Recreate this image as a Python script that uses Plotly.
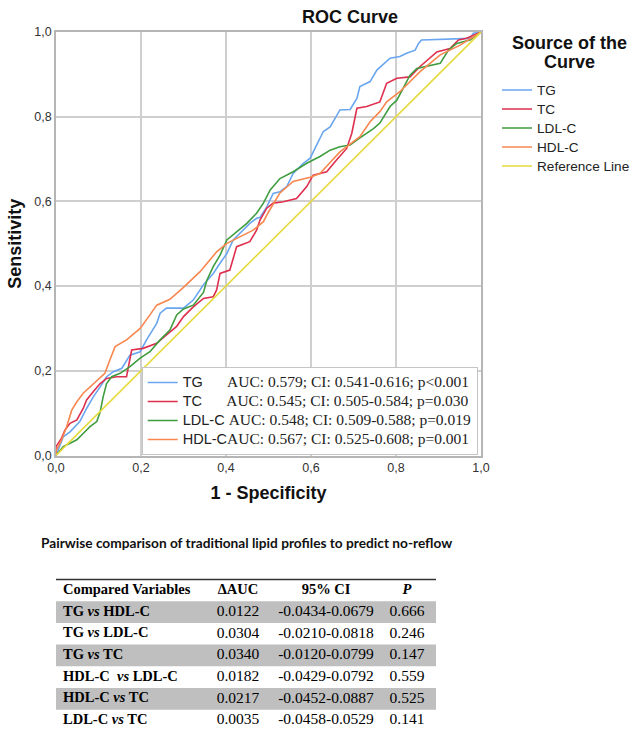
import plotly.graph_objects as go

W, H = 633, 732

# ---------------- ROC data ----------------
tg_fpr = [0, 0.017, 0.033, 0.056, 0.072, 0.088, 0.104, 0.119, 0.135, 0.155,
          0.174, 0.198, 0.213, 0.237, 0.245, 0.26, 0.30, 0.315, 0.323, 0.347,
          0.37, 0.386, 0.402, 0.417, 0.441, 0.456, 0.472, 0.48, 0.496, 0.511,
          0.527, 0.543, 0.558, 0.582, 0.598, 0.613, 0.629, 0.645, 0.668, 0.692,
          0.708, 0.715, 0.739, 0.755, 0.786, 0.809, 0.825, 0.845, 0.853, 0.86,
          0.939, 0.974, 0.982, 1]
tg_tpr = [0, 0.044, 0.056, 0.08, 0.111, 0.139, 0.162, 0.186, 0.198, 0.206,
          0.237, 0.245, 0.273, 0.312, 0.336, 0.348, 0.348, 0.359, 0.367, 0.403,
          0.43, 0.454, 0.477, 0.509, 0.532, 0.548, 0.56, 0.562, 0.587, 0.619,
          0.623, 0.635, 0.666, 0.69, 0.702, 0.733, 0.765, 0.776, 0.816, 0.817,
          0.843, 0.871, 0.883, 0.91, 0.938, 0.942, 0.95, 0.957, 0.973, 0.981,
          0.983, 0.985, 0.997, 1]

tc_fpr = [0, 0.0, 0.013, 0.021, 0.033, 0.049, 0.064, 0.072, 0.088, 0.104,
          0.119, 0.143, 0.166, 0.174, 0.178, 0.205, 0.237, 0.26, 0.284, 0.30,
          0.323, 0.347, 0.37, 0.378, 0.386, 0.409, 0.417, 0.425, 0.456, 0.472,
          0.48, 0.496, 0.511, 0.535, 0.566, 0.59, 0.605, 0.621, 0.637, 0.66,
          0.684, 0.696, 0.708, 0.731, 0.762, 0.778, 0.802, 0.833, 0.856, 0.896,
          0.927, 0.947, 0.966, 1]
tc_tpr = [0, 0.021, 0.041, 0.06, 0.076, 0.084, 0.111, 0.131, 0.151, 0.17,
          0.182, 0.186, 0.186, 0.226, 0.249, 0.253, 0.265, 0.285, 0.305, 0.328,
          0.351, 0.371, 0.375, 0.391, 0.43, 0.438, 0.469, 0.493, 0.505, 0.532,
          0.556, 0.584, 0.596, 0.599, 0.607, 0.635, 0.662, 0.666, 0.67, 0.698,
          0.725, 0.761, 0.82, 0.824, 0.835, 0.879, 0.891, 0.894, 0.918, 0.953,
          0.961, 0.981, 0.985, 1]

ldl_fpr = [0, 0.017, 0.033, 0.049, 0.064, 0.08, 0.096, 0.104, 0.111, 0.119,
           0.131, 0.151, 0.174, 0.198, 0.221, 0.245, 0.268, 0.284, 0.30, 0.323,
           0.347, 0.355, 0.37, 0.386, 0.402, 0.425, 0.449, 0.472, 0.488, 0.504,
           0.527, 0.558, 0.59, 0.621, 0.645, 0.668, 0.692, 0.715, 0.747, 0.762,
           0.786, 0.802, 0.821, 0.833, 0.849, 0.904, 0.923, 0.943, 0.974, 1]
ldl_tpr = [0, 0.021, 0.029, 0.037, 0.052, 0.068, 0.08, 0.103, 0.139, 0.17,
           0.186, 0.194, 0.21, 0.23, 0.245, 0.273, 0.296, 0.332, 0.346, 0.355,
           0.385, 0.414, 0.446, 0.473, 0.509, 0.528, 0.548, 0.572, 0.596, 0.627,
           0.654, 0.67, 0.69, 0.706, 0.721, 0.729, 0.733, 0.75, 0.772, 0.785,
           0.824, 0.839, 0.875, 0.898, 0.914, 0.926, 0.957, 0.973, 0.981, 1]

hdl_fpr = [0, 0, 0.013, 0.025, 0.037, 0.049, 0.064, 0.08, 0.096, 0.115, 0.127,
           0.139, 0.166, 0.198, 0.221, 0.237, 0.268, 0.30, 0.339, 0.362, 0.378,
           0.402, 0.433, 0.464, 0.488, 0.50, 0.527, 0.558, 0.598, 0.621, 0.645,
           0.668, 0.692, 0.715, 0.739, 0.762, 0.778, 0.809, 0.856, 0.904, 0.951,
           1]
hdl_tpr = [0, 0.01, 0.037, 0.068, 0.107, 0.127, 0.147, 0.162, 0.178, 0.194, 0.226,
           0.257, 0.273, 0.30, 0.332, 0.355, 0.369, 0.397, 0.434, 0.462, 0.481,
           0.501, 0.517, 0.532, 0.552, 0.575, 0.62, 0.647, 0.657, 0.666, 0.692,
           0.717, 0.735, 0.753, 0.788, 0.812, 0.835, 0.859, 0.906, 0.946, 0.969,
           1]

ref_x = [0, 1]
ref_y = [0, 1]

curve_names = ["TG", "TC", "LDL-C", "HDL-C"]
curve_fpr = [tg_fpr, tc_fpr, ldl_fpr, hdl_fpr]
curve_tpr = [tg_tpr, tc_tpr, ldl_tpr, hdl_tpr]
curve_colors = ["#6AA6F0", "#DE2F4E", "#3F9C3F", "#F7874F"]
ref_name = "Reference Line"
ref_color = "#E6DA3E"

auc_text = ["AUC: 0.579; CI: 0.541-0.616; p<0.001",
            "AUC: 0.545; CI: 0.505-0.584; p=0.030",
            "AUC: 0.548; CI: 0.509-0.588; p=0.019",
            "AUC: 0.567; CI: 0.525-0.608; p=0.001"]
label_pad = [6, 6, 1, 0]

tick_vals = [0, 0.2, 0.4, 0.6, 0.8, 1.0]
tick_text = ["0,0", "0,2", "0,4", "0,6", "0,8", "1,0"]
legend_title_lines = ["Source of the", "Curve"]

# ---------------- table data ----------------
tbl_title = "Pairwise comparison of traditional lipid profiles to predict no-reflow"
tbl_header = ["Compared Variables", "\u0394AUC", "95% CI", "<i>P</i>"]
cmp_a = ["TG", "TG", "TG", "HDL-C\u00a0", "HDL-C", "LDL-C"]
cmp_b = ["HDL-C", "LDL-C", "TC", "LDL-C", "TC", "TC"]
d_auc = ["0.0122", "0.0304", "0.0340", "0.0182", "0.0217", "0.0035"]
ci95 = ["-0.0434-0.0679", "-0.0210-0.0818", "-0.0120-0.0799",
        "-0.0429-0.0792", "-0.0452-0.0887", "-0.0458-0.0529"]
p_val = ["0.666", "0.246", "0.147", "0.559", "0.525", "0.141"]

SANS = "Liberation Sans, Arial, sans-serif"
SERIF = "Liberation Serif, Times New Roman, serif"

fig = go.Figure()

for name, fx, ty, col in zip(curve_names, curve_fpr, curve_tpr, curve_colors):
    fig.add_trace(go.Scatter(
        x=fx, y=ty, mode="lines", name=f'<span style="font-size:13.6px">{name}</span>',
        line=dict(color=col, width=1.6), legend="legend", hoverinfo="skip"))
fig.add_trace(go.Scatter(
    x=ref_x, y=ref_y, mode="lines", name=f'<span style="font-size:13.6px">{ref_name}</span>',
    line=dict(color=ref_color, width=1.6), legend="legend", hoverinfo="skip"))

# inner AUC legend
for name, col, auc, pad in zip(curve_names, curve_colors, auc_text, label_pad):
    label = (f'<span style="font-size:14.5px">{name}{chr(160) * pad}</span>'
             f'<span style="font-family:Liberation Serif;font-size:15.5px">{auc}</span>')
    fig.add_trace(go.Scatter(
        x=[None], y=[None], mode="lines", name=label,
        line=dict(color=col, width=1.6), legend="legend2", hoverinfo="skip"))

# ---------------- table, drawn on its own axes ----------------
TBL_W = 380            # table width in axis units (= px)
col_x = [7, 182, 270, 351]
col_pos = ["middle right", "middle center", "middle center", "middle center"]
n_rows = len(d_auc)
grey_rows = [i + 1 for i in range(n_rows) if i % 2 == 0]
fig.add_trace(go.Bar(
    x=[TBL_W] * len(grey_rows), y=grey_rows, base=0, orientation="h", width=1,
    marker=dict(color="#BFBFBF", line=dict(width=0)),
    xaxis="x2", yaxis="y2", showlegend=False, hoverinfo="skip"))

first_col = [f"<b>{a} <i>vs</i> {b}</b>" for a, b in zip(cmp_a, cmp_b)]
columns = [first_col, d_auc, ci95, p_val]
cell_sizes = [14.5, 15.5, 15.5, 15.5]
for j, (vals, hdr) in enumerate(zip(columns, tbl_header)):
    fig.add_trace(go.Scatter(
        x=[col_x[j]] * (n_rows + 1), y=list(range(n_rows + 1)),
        text=[f"<b>{hdr}</b>"] + vals, mode="text", textposition=col_pos[j],
        textfont=dict(family=SERIF, color="black",
                      size=[14.5] + [cell_sizes[j]] * n_rows),
        xaxis="x2", yaxis="y2", showlegend=False, hoverinfo="skip", cliponaxis=False))

axis_common = dict(
    range=[0, 1], tickvals=tick_vals, ticktext=tick_text,
    showgrid=True, gridcolor="#CFCFCF", gridwidth=1.5,
    showline=True, linecolor="#B5B5B5", linewidth=1.5, mirror=True,
    zeroline=False, ticks="", tickfont=dict(family=SANS, size=12.5, color="#333"),
    fixedrange=True, automargin=False,
)

TBL_TOP = 579.5
ROW_H = 21.7
tbl_bottom = TBL_TOP + ROW_H * (n_rows + 1)

fig.update_layout(
    width=W, height=H,
    margin=dict(l=0, r=0, t=0, b=0, autoexpand=False),
    paper_bgcolor="white", plot_bgcolor="white",
    font=dict(family=SANS, color="#222"),
    title=dict(text="<b>ROC Curve</b>", x=350 / W, xanchor="center",
               y=1 - 17 / H, yanchor="middle", font=dict(family=SANS, size=18, color="#111")),
    xaxis=dict(domain=[56 / W, 481 / W],
               title=dict(text="<b>1 - Specificity</b>", font=dict(family=SANS, size=18, color="#111"),
                          standoff=12),
               **axis_common),
    yaxis=dict(domain=[1 - 455.5 / H, 1 - 32 / H],
               title=dict(text="<b>Sensitivity</b>", font=dict(family=SANS, size=18, color="#111"),
                          standoff=8),
               **axis_common),
    xaxis2=dict(domain=[56 / W, (56 + TBL_W) / W], range=[0, TBL_W], anchor="y2",
                visible=False, fixedrange=True),
    yaxis2=dict(domain=[1 - tbl_bottom / H, 1 - TBL_TOP / H], range=[n_rows + 0.5, -0.5],
                anchor="x2", visible=False, fixedrange=True),
    showlegend=True,
    legend=dict(x=497 / W, xanchor="left", y=1 - 75.5 / H, yanchor="top",
                bgcolor="rgba(0,0,0,0)", borderwidth=0,
                font=dict(family=SANS, size=12.3, color="#222"),
                itemwidth=30),
    legend2=dict(x=141.7 / W, xanchor="left", y=1 - 455 / H, yanchor="bottom",
                 bgcolor="white", bordercolor="#C4C4C4", borderwidth=1,
                 font=dict(family=SANS, size=12.3, color="#222"),
                 itemwidth=30),
    annotations=[dict(text=f"<b>{tbl_title}</b>", xref="paper", yref="paper",
                      x=39 / W, y=1 - 542 / H, xanchor="left", yanchor="middle",
                      showarrow=False, font=dict(family="Lato, Liberation Sans", size=13.7, color="#111"))]
    + [dict(text=f"<b>{t}</b>", xref="paper", yref="paper",
            x=569 / W, y=1 - (43 + 19 * i) / H, xanchor="center", yanchor="middle",
            showarrow=False, font=dict(family=SANS, size=18, color="#111"))
       for i, t in enumerate(legend_title_lines)],
    shapes=[dict(type="line", xref="paper", yref="paper",
                 x0=56 / W, x1=(56 + TBL_W) / W, y0=1 - TBL_TOP / H, y1=1 - TBL_TOP / H,
                 line=dict(color="#333", width=1.5))],
)

fig.write_html("out.html",
               config={"displayModeBar": False},
               post_script="document.body.style.margin='0';document.body.style.padding='0';")
